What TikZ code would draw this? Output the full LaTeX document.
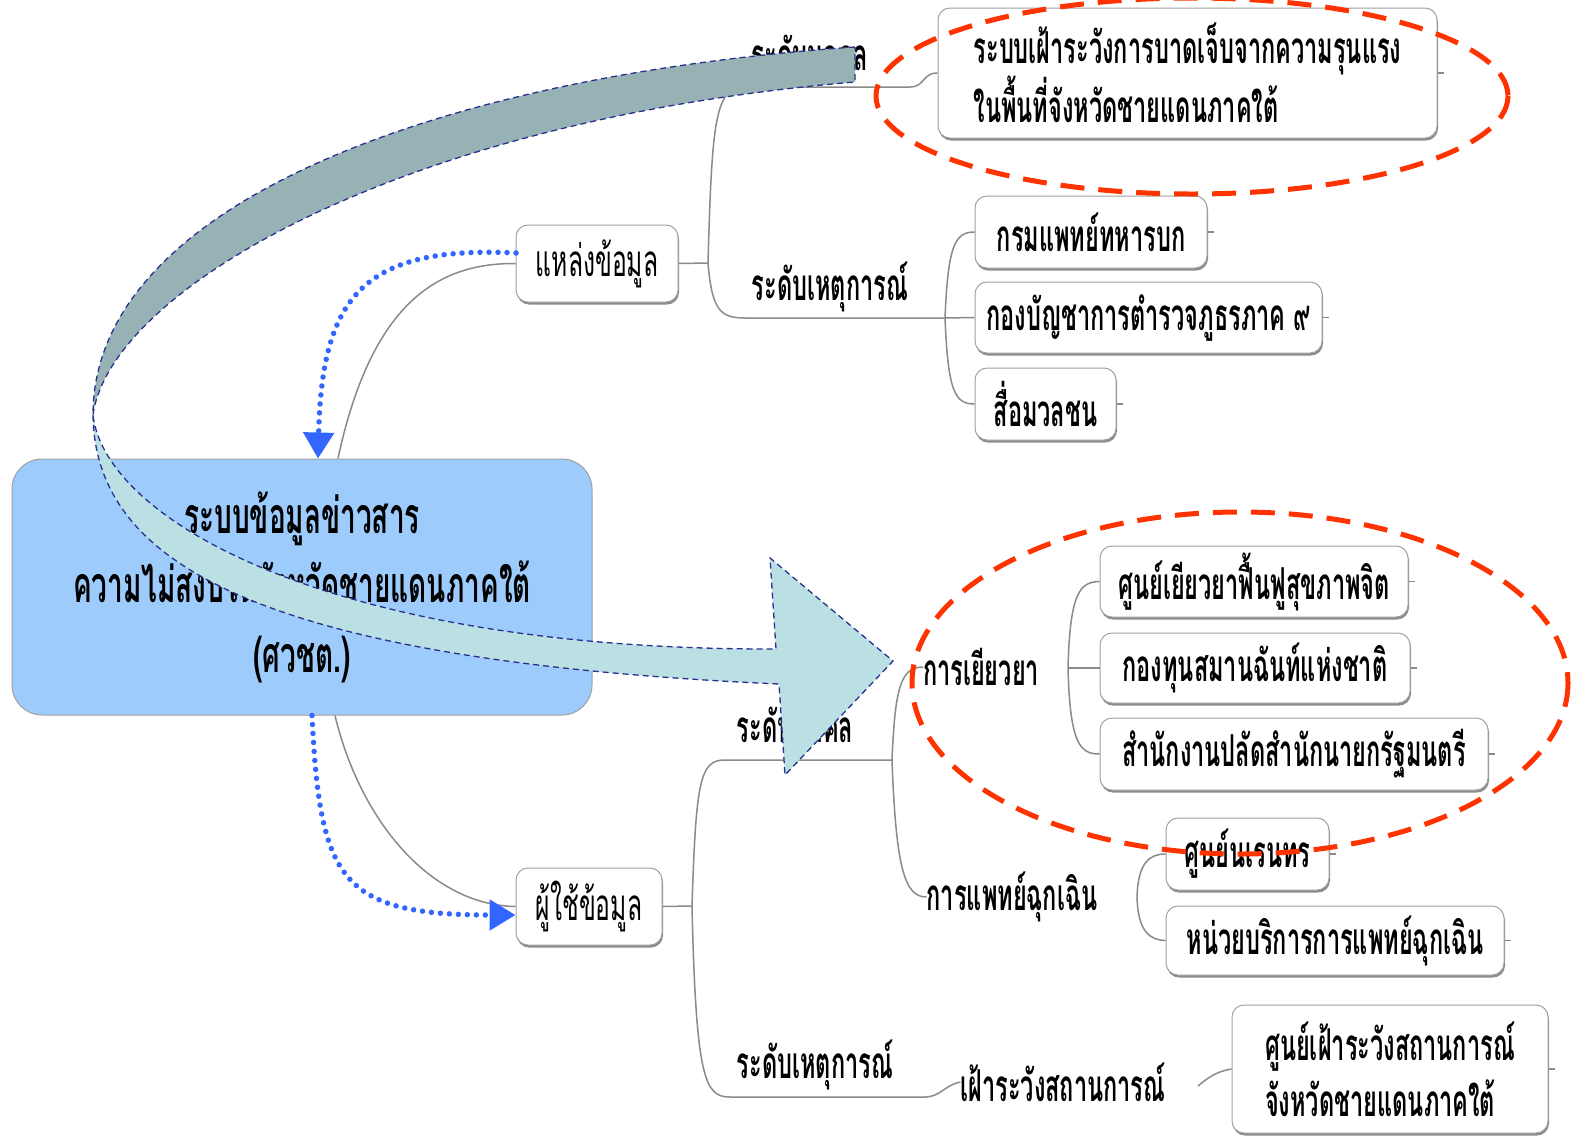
\documentclass[tikz,border=0pt]{standalone}
\usepackage{fontspec}
\usetikzlibrary{arrows.meta,shadows}
\newfontfamily\thai[Script=Thai,FakeStretch=0.535]{Loma}
\newfontfamily\thaimid[Script=Thai,FakeStretch=0.56]{Loma}
\definecolor{boxgray}{HTML}{A0A0A0}
\definecolor{linkgray}{HTML}{8A8A8A}
\definecolor{dotblue}{HTML}{3366FF}
\definecolor{centrefill}{HTML}{9CCBFC}
\definecolor{ringred}{HTML}{FF3300}
\definecolor{banddark}{HTML}{96B2B5}
\definecolor{bandlight}{HTML}{BBE0E3}
\definecolor{bandline}{HTML}{2B2F8F}
\newcommand{\leaffont}{\thai\bfseries\fontsize{44}{56}\selectfont}
\newcommand{\plainfont}{\thaimid\fontsize{44}{48}\selectfont}
\newcommand{\centrefont}{\thaimid\bfseries\fontsize{50}{69.5}\selectfont}
\tikzset{
  leaf/.style={draw=boxgray, line width=1pt, fill=white, rounded corners=12pt,
    drop shadow={shadow xshift=1pt, shadow yshift=-2.5pt, fill=black!45, opacity=1},
    font=\leaffont, inner sep=0pt, align=left},
  plainleaf/.style={leaf, font=\plainfont},
  centre/.style={draw=boxgray, line width=1pt, fill=centrefill, rounded corners=30pt,
    font=\centrefont, align=center, minimum width=580pt, minimum height=256pt, inner sep=0pt},
  lbl/.style={font=\leaffont, inner sep=0pt},
  link/.style={draw=linkgray, line width=1.5pt},
  bluedots/.style={draw=dotblue, line width=5.5pt, line cap=round, dash pattern=on 0pt off 9pt,
    -{Triangle[length=26pt,width=30pt]}},
  ring/.style={draw=ringred, line width=5pt, dash pattern=on 24pt off 14pt},
  band/.style={draw=bandline, line width=1.3pt, dash pattern=on 6pt off 4pt}
}
\begin{document}
\begin{tikzpicture}[x=1pt,y=-1pt]
\fill[white] (0,0) rectangle (1574,1136);
\useasboundingbox (0,0) rectangle (1574,1136);

% ---------- nodes ----------
\node[centre] (c) at (302,587) {ระบบข้อมูลข่าวสาร\\ความไม่สงบในจังหวัดชายแดนภาคใต้\\(ศวชต.)};

\node[plainleaf, minimum width=162pt, minimum height=77pt] (src) at (597,263.5) {แหล่งข้อมูล};
\node[plainleaf, minimum width=146pt, minimum height=77pt] (usr) at (589,906.5) {ผู้ใช้ข้อมูล};

\node[leaf, minimum width=499pt, minimum height=130pt] (b1) at (1187.5,73) {ระบบเฝ้าระวังการบาดเจ็บจากความรุนแรง\\ในพื้นที่จังหวัดชายแดนภาคใต้};
\node[leaf, minimum width=232pt, minimum height=72pt] (b2) at (1091,232) {กรมแพทย์ทหารบก};
\node[leaf, minimum width=347pt, minimum height=71pt] (b3) at (1148.5,317.5) {กองบัญชาการตำรวจภูธรภาค ๙};
\node[leaf, minimum width=141pt, minimum height=72pt] (b4) at (1045.5,404) {สื่อมวลชน};
\node[leaf, minimum width=308pt, minimum height=71pt] (b5) at (1254,581.5) {ศูนย์เยียวยาฟื้นฟูสุขภาพจิต};
\node[leaf, minimum width=310pt, minimum height=70pt] (b6) at (1255,668) {กองทุนสมานฉันท์แห่งชาติ};
\node[leaf, minimum width=388pt, minimum height=72pt] (b7) at (1294,754) {สำนักงานปลัดสำนักนายกรัฐมนตรี};
\node[leaf, minimum width=163pt, minimum height=72pt] (b8) at (1247.5,854) {ศูนย์นเรนทร};
\node[leaf, minimum width=338pt, minimum height=69pt] (b9) at (1335,940.5) {หน่วยบริการการแพทย์ฉุกเฉิน};
\node[leaf, minimum width=316pt, minimum height=128pt] (b10) at (1390,1069) {ศูนย์เฝ้าระวังสถานการณ์\\จังหวัดชายแดนภาคใต้};

\node[lbl] (l1) at (810,58) {ระดับบุคคล};
\node[lbl] (l2) at (830,287) {ระดับเหตุการณ์};
\node[lbl] (l3) at (795,730) {ระดับบุคคล};
\node[lbl] (l4) at (815,1065) {ระดับเหตุการณ์};
\node[lbl] (l5) at (981,667) {การเยียวยา};
\node[lbl] (l6) at (1012,897) {การแพทย์ฉุกเฉิน};
\node[lbl] (l7) at (1063,1082) {เฝ้าระวังสถานการณ์};

% ---------- branch points ----------
\coordinate (s0) at (708,263);
\coordinate (u1) at (910,87);
\coordinate (u2) at (945,318);
\coordinate (d0) at (692,906);
\coordinate (d1) at (892,760);
\coordinate (d2) at (925,1097);
\coordinate (r1) at (1068,668);
\coordinate (r2) at (1137,897);
\coordinate (r3) at (1198,1086);

% ---------- connectors ----------
\draw[link] (src.east) -- (s0);
\draw[link] (s0) .. controls (712,120) and (715,87) .. (745,87) -- (u1) .. controls (925,87) and (922,73) .. (b1.west);
\draw[link] (s0) .. controls (712,310) and (720,318) .. (745,318) -- (u2);
\draw[link] (u2) .. controls (948,245) and (955,232) .. (b2.west);
\draw[link] (u2) -- (b3.west);
\draw[link] (u2) .. controls (948,392) and (955,404) .. (b4.west);

\draw[link] (usr.east) -- (d0);
\draw[link] (d0) .. controls (696,780) and (700,760) .. (725,760) -- (d1);
\draw[link] (d0) .. controls (696,1080) and (705,1097) .. (730,1097) -- (d2);
\draw[link] (d1) .. controls (895,690) and (900,667) .. (l5.west);
\draw[link] (d1) .. controls (896,870) and (905,897) .. (l6.west);
\draw[link] (r1) .. controls (1070,592) and (1080,582) .. (b5.west);
\draw[link] (r1) -- (b6.west);
\draw[link] (r1) .. controls (1070,744) and (1080,754) .. (b7.west);
\draw[link] (r2) .. controls (1138,862) and (1150,854) .. (b8.west);
\draw[link] (r2) .. controls (1138,932) and (1150,940) .. (b9.west);
\draw[link] (d2) .. controls (940,1097) and (945,1085) .. (l7.west);
\draw[link] (r3) .. controls (1212,1074) and (1220,1071) .. (b10.west);

\foreach \b in {b1,b2,b3,b4,b5,b6,b7,b8,b9,b10} \draw[link] (\b.east) -- ++(6,0);

\draw[link] (src.west) .. controls (440,263) and (372,300) .. (c.north -| 338,0);
\draw[link] (c.south -| 335,0) .. controls (360,820) and (430,905) .. (usr.west);
\draw[bluedots] (516,253) .. controls (360,245) and (322,300) .. (c.north -| 318,0);
\draw[bluedots] (c.south -| 312,0) .. controls (320,880) and (340,915) .. (usr.west |- 0,915);

% ---------- red rings ----------
\draw[ring] (1192,96) ellipse [x radius=316, y radius=98];
\draw[ring] (1240,683) ellipse [x radius=328, y radius=171];

% ---------- curved band arrow ----------
\draw[band, fill=banddark] (855,47) .. controls (450,75) and (93,200) .. (93,415)
   .. controls (110,290) and (400,120) .. (855,82) -- cycle;
\draw[band, fill=bandlight] (93,415) .. controls (95,560) and (250,660) .. (779,684)
   -- (785,775) -- (893,661) -- (770,558) -- (776,649)
   .. controls (330,650) and (105,520) .. (93,415) -- cycle;
\end{tikzpicture}
\end{document}
